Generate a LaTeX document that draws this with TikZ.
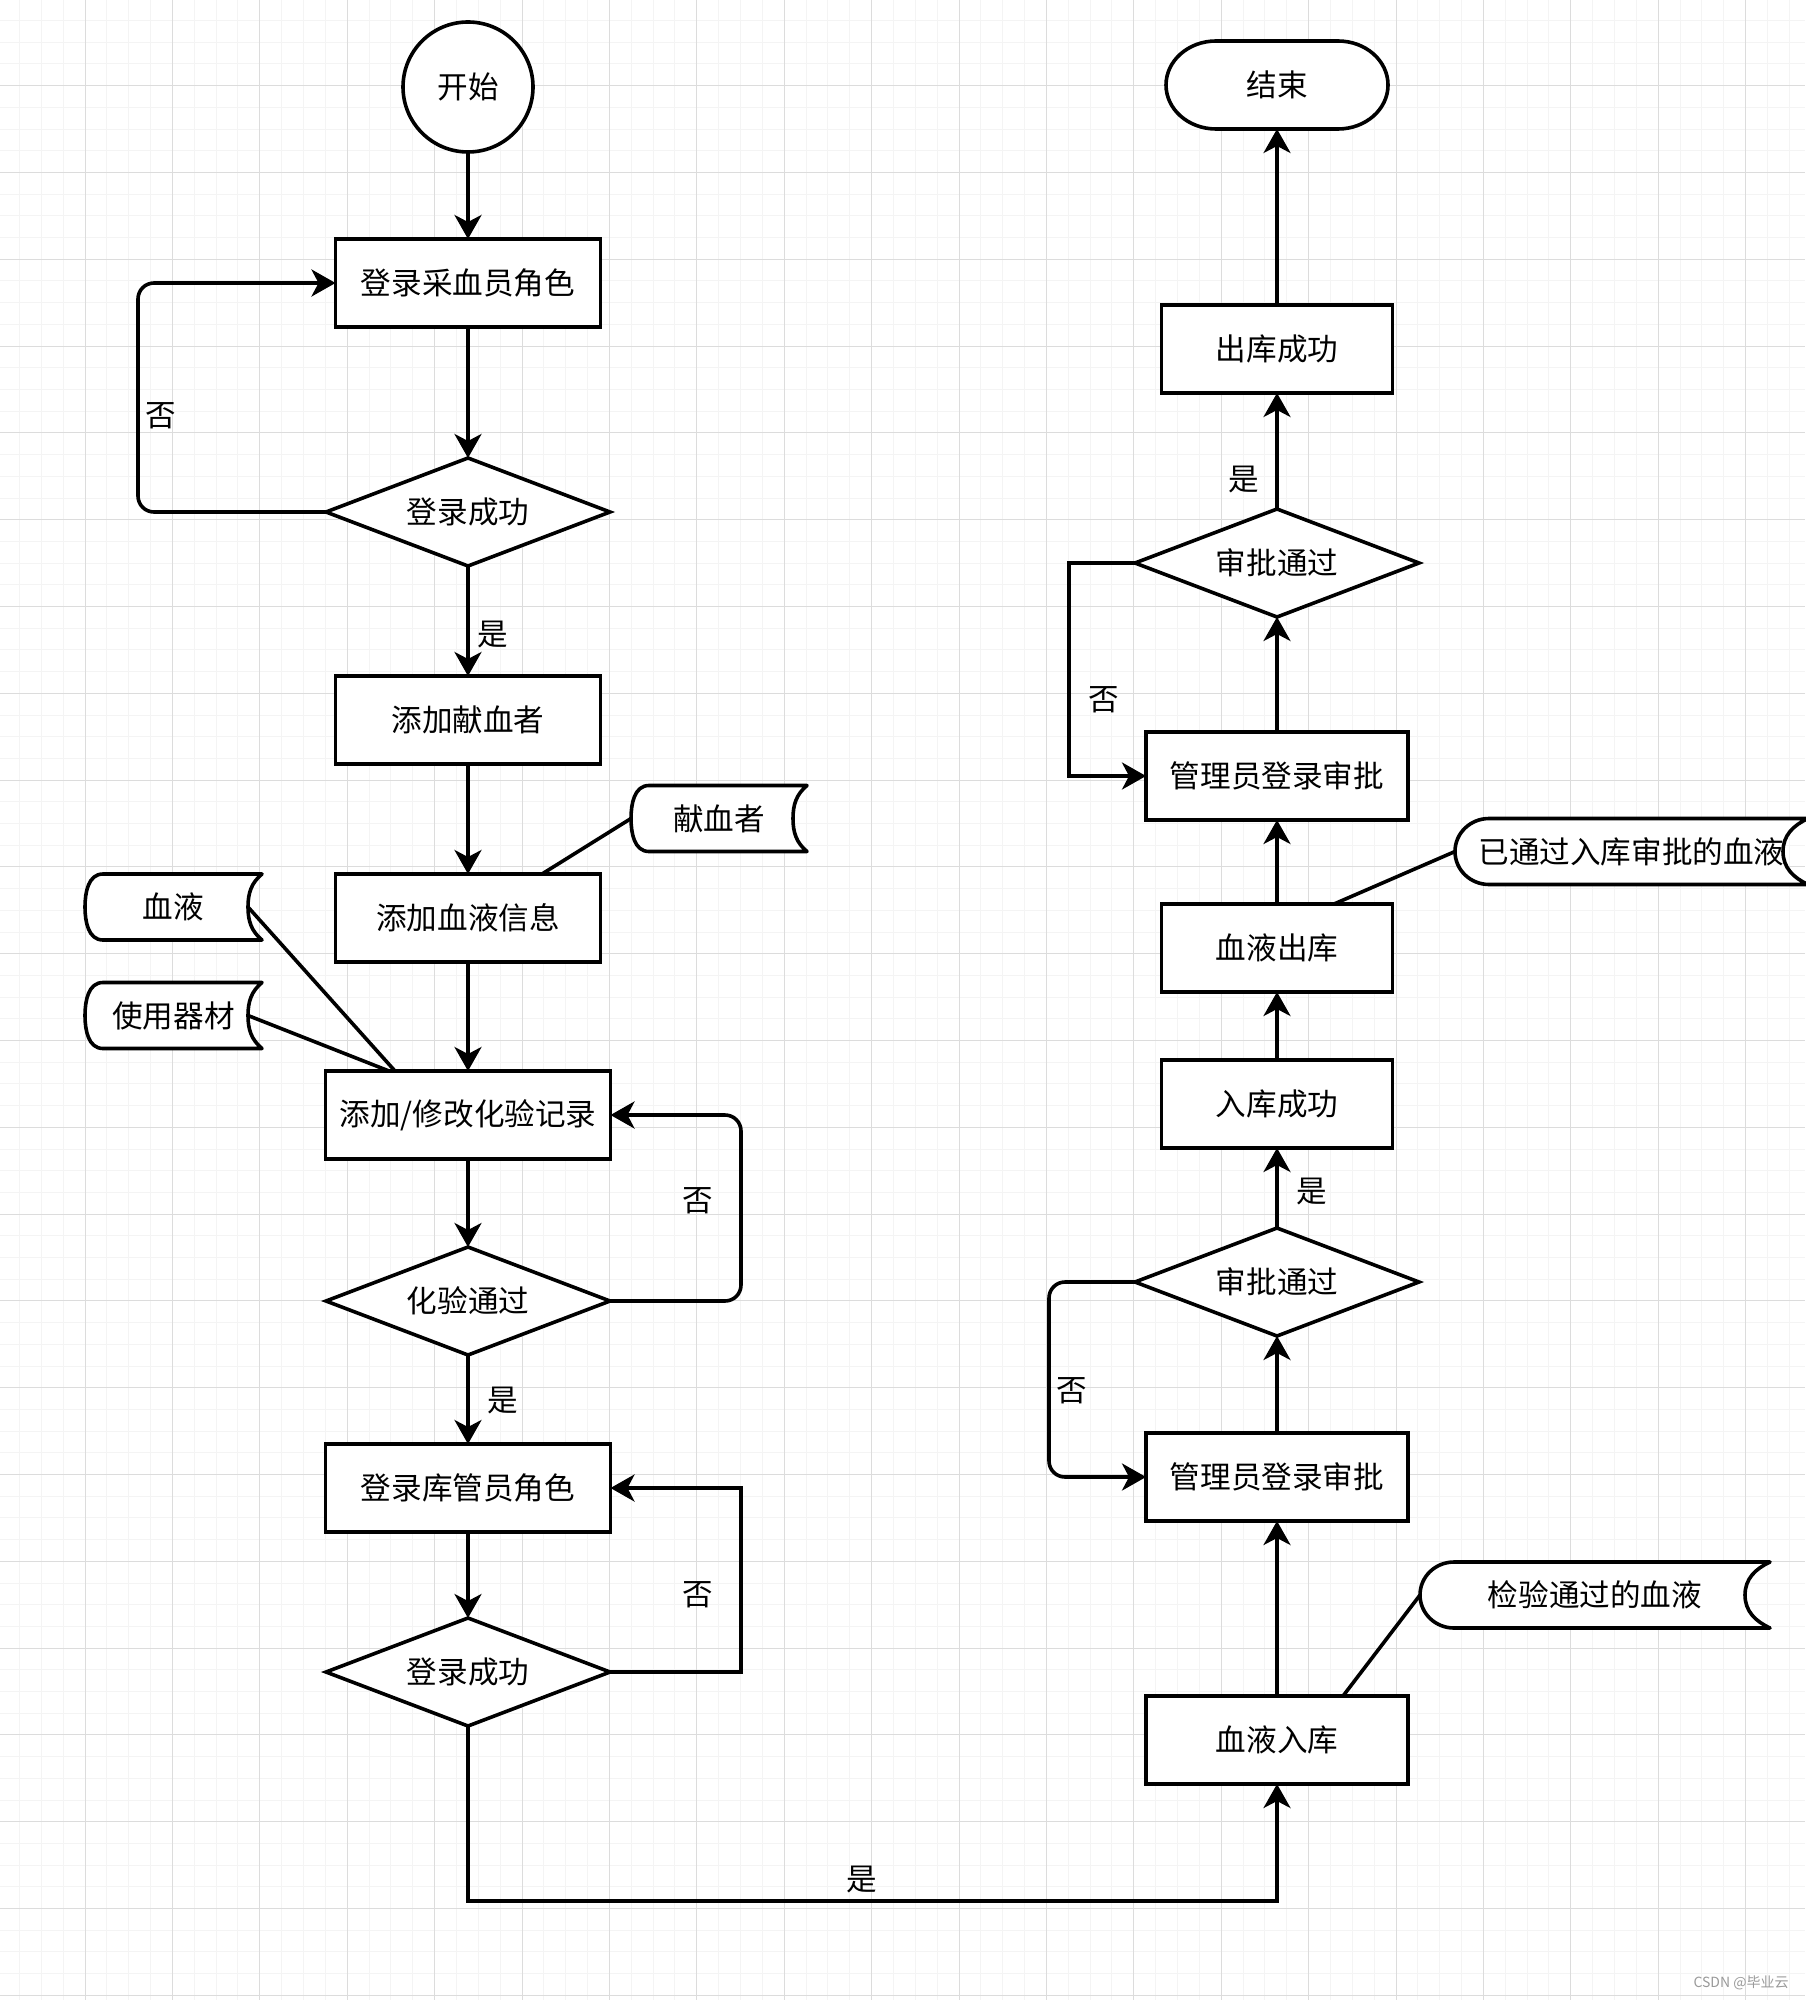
\documentclass[tikz,border=0pt]{standalone}
\usepackage{fontspec}
\newfontfamily\cjk{Noto Sans CJK SC}
\usetikzlibrary{arrows.meta, positioning, shapes.geometric}

\pgfdeclarelayer{grid}
\pgfdeclarelayer{back}
\pgfsetlayers{grid,back,main}

\definecolor{majorgrid}{HTML}{DCDCDC}
\definecolor{minorgrid}{HTML}{F4F4F4}
\definecolor{marktext}{HTML}{9A9A9A}

% data storage outline behind node #1 (#2 left bulge, #3 right notch, #4 notch angle)
\newcommand{\storeshape}[4]{%
  \begin{pgfonlayer}{back}
  \draw[outline] ([xshift=#2]#1.north west) -- (#1.north east)
    to[out=#4,in=90] ([xshift=-#3]#1.east)
    to[out=-90,in=-#4] (#1.south east) -- ([xshift=#2]#1.south west)
    to[out=180,in=-90] (#1.west)
    to[out=90,in=180] cycle;
  \end{pgfonlayer}
  \coordinate (#1-in) at ([xshift=-#3]#1.east);}

% terminal outline behind node #1
\newcommand{\termshape}[1]{%
  \begin{pgfonlayer}{back}
  \draw[outline] ([xshift=25pt]#1.north west) -- ([xshift=-25pt]#1.north east)
    arc[start angle=90, end angle=-90, x radius=25pt, y radius=22pt]
    -- ([xshift=25pt]#1.south west)
    arc[start angle=270, end angle=90, x radius=25pt, y radius=22pt] -- cycle;
  \end{pgfonlayer}}

\begin{document}
\begin{tikzpicture}[
    x=0.5pt, y=0.5pt,
    font=\fontsize{15.3pt}{18pt}\cjk,
    box/.style={
        draw,
        fill=white,
        line width=1.8pt,
        minimum height=44pt,
        inner sep=0pt,
        outer sep=0pt
    },
    decide/.style={
        diamond,
        draw,
        fill=white,
        line width=1.8pt,
        minimum width=142pt,
        minimum height=54pt,
        aspect=2.6,
        inner sep=0pt,
        outer sep=0pt
    },
    store/.style={
        minimum height=33pt,
        inner sep=0pt,
        outer sep=0pt
    },
    outline/.style={
        draw,
        fill=white,
        line width=1.8pt,
        line join=round
    },
    wire/.style={
        line width=1.8pt
    },
    arrow/.style={
        -{Stealth[length=12pt, width=13.5pt, inset=3.5pt]},
        line width=1.8pt
    },
    lbl/.style={
        inner sep=0pt
    }
]
\useasboundingbox (0,0) rectangle (1805,-2000);

% Background grid
\begin{pgfonlayer}{grid}
\fill[white] (0,0) rectangle (1805,-2000);
\foreach \k in {-3,...,79} {
    \draw[minorgrid, line width=0.5pt] ({85+21.85*\k},0) -- ({85+21.85*\k},-2000);
}
\foreach \k in {-3,...,88} {
    \draw[minorgrid, line width=0.5pt] (0,{-85.7-21.7*\k}) -- (1805,{-85.7-21.7*\k});
}
\foreach \k in {0,...,20} {
    \draw[majorgrid, line width=0.5pt] ({85+87.4*\k},0) -- ({85+87.4*\k},-2000);
}
\foreach \k in {0,...,22} {
    \draw[majorgrid, line width=0.5pt] (0,{-85.7-86.8*\k}) -- (1805,{-85.7-86.8*\k});
}
\end{pgfonlayer}

% Left column
\node[circle, draw, fill=white, line width=1.8pt, minimum size=65pt, inner sep=0pt, outer sep=0pt] (start) at (468,-87) {开始};
\node[box, minimum width=132.5pt, below=43.5pt of start] (login) {登录采血员角色};
\node[decide, below=65.5pt of login] (loginok) {登录成功};
\node[box, minimum width=132.5pt, below=55pt of loginok] (adddonor) {添加献血者};
\node[box, minimum width=132.5pt, below=55pt of adddonor] (addinfo) {添加血液信息};
\node[box, minimum width=142.5pt, below=54.5pt of addinfo] (addtest) {添加/修改化验记录};
\node[decide, below=44pt of addtest] (testok) {化验通过};
\node[box, minimum width=142.5pt, below=44.5pt of testok] (keeper) {登录库管员角色};
\node[decide, below=43pt of keeper] (keeperok) {登录成功};

% Right column
\node[store, minimum width=111pt, minimum height=44pt] (finish) at (1277,-85) {结束};
\node[box, minimum width=115.5pt, below=88pt of finish] (outok) {出库成功};
\node[decide, below=58pt of outok] (check1) {审批通过};
\node[box, minimum width=131pt, below=57.5pt of check1] (admin1) {管理员登录审批};
\node[box, minimum width=115.5pt, below=42pt of admin1] (bloodout) {血液出库};
\node[box, minimum width=115.5pt, below=34pt of bloodout] (inok) {入库成功};
\node[decide, below=40pt of inok] (check2) {审批通过};
\node[box, minimum width=131pt, below=48.5pt of check2] (admin2) {管理员登录审批};
\node[box, minimum width=131pt, below=87.5pt of admin2] (bloodin) {血液入库};
\termshape{finish}

% Data stores
\node[store, minimum width=88pt] (donor) at (719,-818.5) {献血者};
\node[store, minimum width=88.5pt] (blood) at (173.5,-907) {血液};
\node[store, minimum width=88.5pt] (tools) at (173.5,-1015.5) {使用器材};
\node[store, minimum width=176.5pt] (passed) at (1631.5,-851.5) {已通过入库审批的血液};
\node[store, minimum width=175pt] (checked) at (1595,-1595) {检验通过的血液};
\storeshape{donor}{9pt}{7pt}{-140}
\storeshape{blood}{9pt}{7pt}{-140}
\storeshape{tools}{9pt}{7pt}{-140}
\storeshape{passed}{17pt}{12.5pt}{-155}
\storeshape{checked}{17pt}{12.5pt}{-155}

% Arrows, left
\draw[arrow] (start) -- (login);
\draw[arrow] (login) -- (loginok);
\draw[arrow] (loginok) -- node[lbl, pos=0.62, right=4pt] {是} (adddonor);
\draw[arrow] (adddonor) -- (addinfo);
\draw[arrow] (addinfo) -- (addtest);
\draw[arrow] (addtest) -- (testok);
\draw[arrow] (testok) -- node[lbl, pos=0.51, right=9pt] {是} (keeper);
\draw[arrow] (keeper) -- (keeperok);
\draw[arrow, rounded corners=8pt] (loginok.west) -- ++(-188,0) |- node[lbl, pos=0.21, right=3pt] {否} (login.west);
\draw[arrow, rounded corners=8pt] (testok.east) -- ++(131,0) |- node[lbl, pos=0.27, left=13pt] {否} (addtest.east);
\draw[arrow] (keeperok.east) -- ++(131,0) |- node[lbl, pos=0.21, left=13pt] {否} (keeper.east);
\draw[arrow] (keeperok.south) -- ++(0,-175) -| node[lbl, pos=0.2435, above=3pt] {是} (bloodin.south);

% Arrows, right
\draw[arrow] (bloodin) -- (admin2);
\draw[arrow] (admin2) -- (check2);
\draw[arrow] (check2) -- node[lbl, pos=0.45, right=9pt] {是} (inok);
\draw[arrow] (inok) -- (bloodout);
\draw[arrow] (bloodout) -- (admin1);
\draw[arrow] (admin1) -- (check1);
\draw[arrow] (check1) -- node[lbl, pos=0.25, left=8pt] {是} (outok);
\draw[arrow] (outok) -- (finish);
\draw[arrow] (check1.west) -- ++(-66,0) |- node[lbl, pos=0.32, right=9pt] {否} (admin1.west);
\draw[arrow, rounded corners=8pt] (check2.west) -- ++(-86,0) |- node[lbl, pos=0.28, right=3pt] {否} (admin2.west);

% Store links
\draw[wire] (donor.west) -- ([xshift=37pt]addinfo.north);
\draw[wire] (blood-in) -- ([xshift=-36.5pt]addtest.north);
\draw[wire] (tools-in) -- ([xshift=-39.5pt]addtest.north);
\draw[wire] (passed.west) -- ([xshift=28.5pt]bloodout.north);
\draw[wire] (checked.west) -- ([xshift=33pt]bloodin.north);

\node[text=marktext, font=\fontsize{7pt}{8pt}\cjk] (mark) at (1741,-1983) {CSDN @毕业云};

\end{tikzpicture}
\end{document}
